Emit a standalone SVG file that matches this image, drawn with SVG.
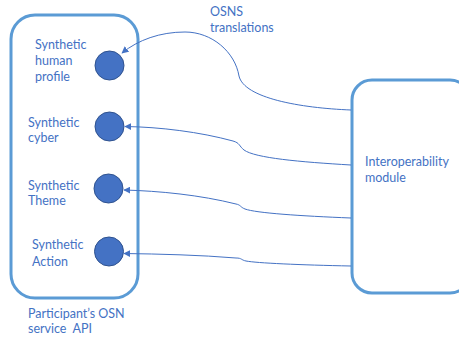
<svg xmlns="http://www.w3.org/2000/svg" width="459" height="337" viewBox="0 0 459 337">
  <style>
    .frame { fill: #ffffff; stroke: #5b9bd5; stroke-width: 3; }
    .port { fill: #4472c4; stroke: #2f528f; stroke-width: 1; }
    .label { font-family: Lato, "Open Sans", "Liberation Sans", sans-serif; font-size: 12.5px; fill: #4472c4; }
    .link { fill: none; stroke: #4472c4; stroke-width: 1; marker-end: url(#arrow); }
  </style>
  <defs>
    <marker id="arrow" viewBox="0 0 10 10" refX="9" refY="5" markerWidth="7" markerHeight="7" markerUnits="userSpaceOnUse" orient="auto">
      <path d="M0,0 L10,5 L0,10 z" fill="#4472c4"/>
    </marker>
  </defs>
  <rect width="459" height="337" fill="#ffffff"/>

  <!-- participant's API container -->
  <g id="osn-api">
    <rect class="frame" x="11" y="15" width="127" height="283" rx="24" ry="24"/>
    <text class="label" x="28" y="318">Participant’s OSN</text>
    <text class="label" x="28" y="333" xml:space="preserve">service  API</text>
  </g>

  <!-- interoperability module -->
  <g id="interop">
    <rect class="frame" x="352" y="80" width="118" height="213" rx="20" ry="20"/>
    <text class="label" x="365" y="166">Interoperability</text>
    <text class="label" x="365" y="182">module</text>
  </g>

  <g id="human-profile">
    <text class="label" x="35" y="49">Synthetic</text>
    <text class="label" x="35" y="65">human</text>
    <text class="label" x="35" y="81">profile</text>
    <circle class="port" cx="109.5" cy="65.5" r="14.5"/>
  </g>

  <g id="cyber">
    <text class="label" x="28" y="127">Synthetic</text>
    <text class="label" x="28" y="142">cyber</text>
    <circle class="port" cx="109.5" cy="126.5" r="14.5"/>
  </g>

  <g id="theme">
    <text class="label" x="28" y="190">Synthetic</text>
    <text class="label" x="28" y="205">Theme</text>
    <circle class="port" cx="108.5" cy="188.5" r="14.5"/>
  </g>

  <g id="action">
    <text class="label" x="32" y="249">Synthetic</text>
    <text class="label" x="32" y="266">Action</text>
    <circle class="port" cx="109" cy="251.5" r="14.5"/>
  </g>

  <g id="osns-label">
    <text class="label" x="210" y="16">OSNS</text>
    <text class="label" x="210" y="32">translations</text>
  </g>

  <!-- translation links from the module to each port -->
  <g id="connectors">
    <path class="link" d="M351,110 C 300,108 244,98 239,76 C 235,52 212,32 185,32 C 160,32 138,40 122,53"/>
    <path class="link" d="M351,165 C 300,162 255,158 244,150 C 239,146 240,143 233,141 C 200,132 160,127 125,126.5"/>
    <path class="link" d="M351,218 C 300,216 256,213 245,209 C 240,207 241,205 236,204 C 200,195 160,191 124,190"/>
    <path class="link" d="M351,266 C 300,265 256,263 246,261 C 241,260 242,258 236,258 C 200,255 160,254 124,253.5"/>
  </g>
</svg>
